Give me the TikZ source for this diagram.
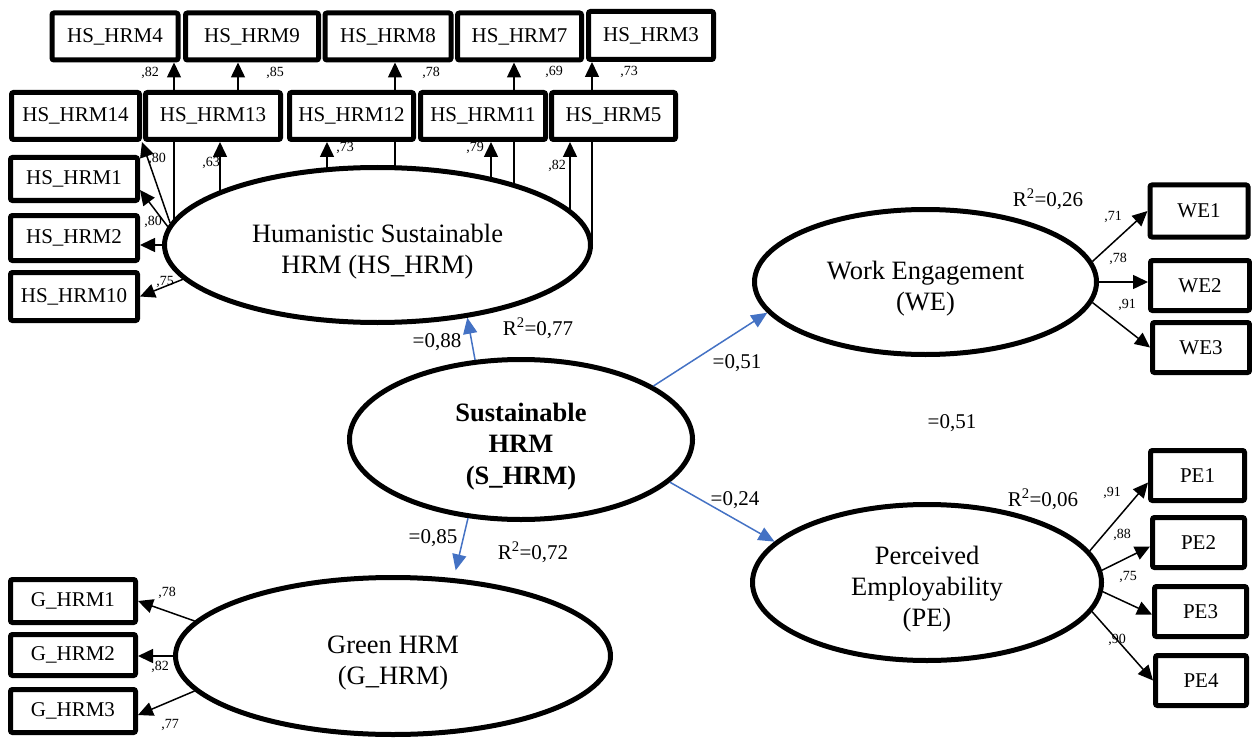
\documentclass[tikz,border=0pt]{standalone}
\usepackage{fontspec}
\setmainfont{Liberation Serif}
\usetikzlibrary{arrows.meta,shapes.geometric,backgrounds}
\definecolor{pathblue}{RGB}{68,114,196}
\newcommand{\lowtext}{\rule{0pt}{32pt}}
\tikzset{item/.style={draw,line width=5pt,fill=white,rounded corners=2pt,inner sep=0pt,
    minimum width=126pt,minimum height=47pt,font=\fontsize{21}{25}\selectfont},
  latent/.style={draw,ellipse,line width=5pt,fill=white,inner sep=0pt,align=center,
    font=\fontsize{26.5}{31}\selectfont},
  load/.style={-{Triangle[length=15pt,width=14pt]},line width=1.5pt},
  coef/.style={-{Triangle[length=16pt,width=14pt]},line width=1.5pt,pathblue},
  ldtext/.style={font=\fontsize{14}{16}\selectfont,inner sep=0pt},
  coeftext/.style={font=\fontsize{21}{25}\selectfont,inner sep=0pt}}

\begin{document}
\begin{tikzpicture}[x=1pt,y=-1pt]
\useasboundingbox (0,0) rectangle (1252,738);
% indicator boxes of HS_HRM
\node[item] (hs4) at (115,36.5) {HS\_HRM4};
\node[item,minimum width=133pt] (hs9) at (252,36.5) {HS\_HRM9};
\node[item] (hs8) at (388,36.5) {HS\_HRM8};
\node[item,minimum width=124pt] (hs7) at (519.5,36.5) {HS\_HRM7};
\node[item,minimum width=125pt,minimum height=48pt] (hs3) at (651,35.5) {HS\_HRM3};
\node[item,minimum width=128pt] (hs14) at (75.5,116) {HS\_HRM14};
\node[item,minimum width=135pt] (hs13) at (213,116) {HS\_HRM13};
\node[item,minimum width=124pt] (hs12) at (351.5,116) {HS\_HRM12};
\node[item,minimum width=125pt] (hs11) at (483,116) {HS\_HRM11};
\node[item,minimum width=124pt] (hs5) at (613.5,116) {HS\_HRM5};
\node[item,minimum width=127pt,minimum height=43pt] (hs1) at (74,179) {HS\_HRM1};
\node[item,minimum width=127pt,minimum height=45pt] (hs2) at (74,238) {HS\_HRM2};
\node[item,minimum width=127pt,minimum height=48pt] (hs10) at (74,296.5) {HS\_HRM10};
% other indicators
\node[item,minimum width=98pt,minimum height=52pt] (we1) at (1199,211) {WE1};
\node[item,minimum width=99pt,minimum height=50pt] (we2) at (1200,285.5) {WE2};
\node[item,minimum width=97pt,minimum height=50pt] (we3) at (1201,347.5) {WE3};
\node[item,minimum width=94pt,minimum height=50pt] (pe1) at (1197.5,475.5) {PE1};
\node[item,minimum width=92pt,minimum height=50pt] (pe2) at (1198.5,542.5) {PE2};
\node[item,minimum width=92pt,minimum height=50pt] (pe3) at (1200.5,611.5) {PE3};
\node[item,minimum width=91pt,minimum height=50pt] (pe4) at (1201,680.5) {PE4};
\node[item,minimum width=125pt,minimum height=43pt] (g1) at (73,601) {G\_HRM1};
\node[item,minimum width=125pt,minimum height=41pt] (g2) at (73,655) {G\_HRM2};
\node[item,minimum width=125pt,minimum height=43pt] (g3) at (73,711) {G\_HRM3};
% latent variables
\node[latent,minimum width=426pt,minimum height=155pt] (hs) at (377.5,245) {\lowtext Humanistic Sustainable\\HRM (HS\_HRM)};
\node[latent,font=\fontsize{26.5}{31.5}\selectfont\bfseries,minimum width=343pt,minimum height=160pt] (s) at (521,439.5) {\lowtext Sustainable\\HRM\\(S\_HRM)};
\node[latent,minimum width=342pt,minimum height=145pt] (we) at (925.5,282) {\lowtext Work Engagement\\(WE)};
\node[latent,minimum width=349pt,minimum height=156pt] (pe) at (927,582.5) {\lowtext Perceived\\Employability\\(PE)};
\node[latent,minimum width=435pt,minimum height=157pt] (g) at (393,656) {\lowtext Green HRM\\(G\_HRM)};
% arrow ends on the top boxes
\coordinate (t4) at ([xshift=59pt]hs4.south);
\coordinate (t9) at ([xshift=-14pt]hs9.south);
\coordinate (t8) at ([xshift=7pt]hs8.south);
\coordinate (t7) at ([xshift=-5.5pt]hs7.south);
\coordinate (t3) at ([xshift=-59pt]hs3.south);
\coordinate (t13) at ([xshift=7pt]hs13.south);
\coordinate (t12) at ([xshift=-24.5pt]hs12.south);
\coordinate (t11) at ([xshift=8pt]hs11.south);
\coordinate (t5) at ([xshift=-43.5pt]hs5.south);
\begin{scope}[on background layer]
\draw[load] (t4 |- hs.center) -- (t4);
\draw[load] (t9 |- hs13.north) -- (t9);
\draw[load] (t8 |- hs.center) -- (t8);
\draw[load] (t7 |- hs.center) -- (t7);
\draw[load] (t3 |- hs.center) -- (t3);
\draw[load] (t13 |- hs.center) -- (t13);
\draw[load] (t12 |- hs.center) -- (t12);
\draw[load] (t11 |- hs.center) -- (t11);
\draw[load] (t5 |- hs.center) -- (t5);
\draw[load] (hs.174) -- (hs14.south east);
\draw[load] (hs.175) -- ([yshift=-11pt]hs1.east);
\draw[load] (hs.west) -- (hs.west -| hs2.east);
\draw[load] (hs.-170) -- (hs10.east);
\draw[load] (we.7) -- (we1.west);
\draw[load] (we.east) -- (we.east -| we2.west);
\draw[load] (we.-7) -- (we3.west);
\draw[load] (pe.11) -- ([yshift=-7pt]pe1.west);
\draw[load] (pe.4) -- ([yshift=-4pt]pe2.west);
\draw[load] (pe.-3) -- ([yshift=-3pt]pe3.west);
\draw[load] (pe.-10) -- (pe4.west);
\draw[load] (g.170) -- (g1.east);
\draw[load] (g.west) -- (g.west -| g2.east);
\draw[load] (g.190) -- ([yshift=-4pt]g3.east);
\end{scope}
% structural paths
\draw[coef] (s.120) -- (hs.-39);
\draw[coef] (s.22) -- (we.-169);
\draw[coef] (s.-16) -- (pe.165);
\draw[coef,shorten >=8pt] (s.-124) -- (g.52);
% loadings
\node[ldtext] (l4) at (150,73) {,82};
\node[ldtext] (l9) at (275,73) {,85};
\node[ldtext] (l8) at (431,73) {,78};
\node[ldtext] (l7) at (554,72) {,69};
\node[ldtext] (l3) at (629,72) {,73};
\node[ldtext] (l14) at (157,159) {,80};
\node[ldtext] (l13) at (211,163) {,63};
\node[ldtext] (l12) at (345,148) {,73};
\node[ldtext] (l11) at (475,148) {,79};
\node[ldtext] (l5) at (557,166) {,82};
\node[ldtext] (l1) at (153,222) {,80};
\node[ldtext] (l10) at (165,282) {,75};
\node[ldtext] (lw1) at (1113,217) {,71};
\node[ldtext] (lw2) at (1118,259) {,78};
\node[ldtext] (lw3) at (1127,305) {,91};
\node[ldtext] (lp1) at (1112,493) {,91};
\node[ldtext] (lp2) at (1122,535) {,88};
\node[ldtext] (lp3) at (1128,577) {,75};
\node[ldtext] (lp4) at (1117,640) {,90};
\node[ldtext] (lg1) at (167,593) {,78};
\node[ldtext] (lg2) at (160,667) {,82};
\node[ldtext] (lg3) at (170,725) {,77};
% coefficients and R2
\node[coeftext] (bhs) at (437,342) {=0,88};
\node[coeftext] (rhs) at (538,328) {R\textsuperscript{2}=0,77};
\node[coeftext] (bwe) at (737,363) {=0,51};
\node[coeftext] (bpe) at (735,500) {=0,24};
\node[coeftext] (bg) at (433,538) {=0,85};
\node[coeftext] (rg) at (533,552) {R\textsuperscript{2}=0,72};
\node[coeftext] (bmid) at (952,423) {=0,51};
\node[coeftext] (rwe) at (1048,199) {R\textsuperscript{2}=0,26};
\node[coeftext] (rpe) at (1043,499) {R\textsuperscript{2}=0,06};
\end{tikzpicture}
\end{document}
